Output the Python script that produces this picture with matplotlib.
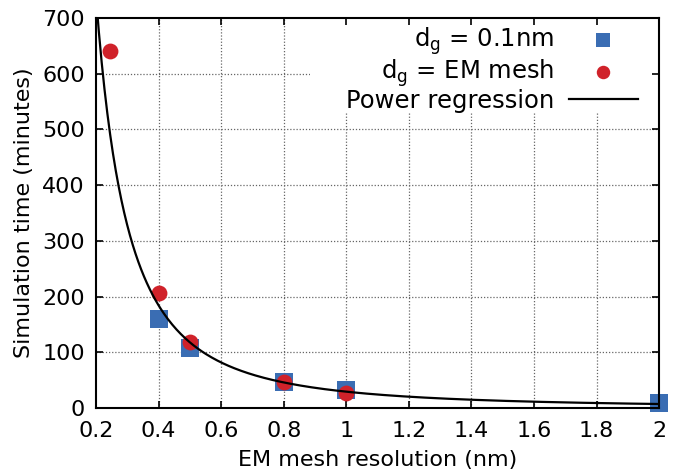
import numpy as np
import matplotlib
matplotlib.use("Agg")
import matplotlib.pyplot as plt
from matplotlib.patches import Rectangle

# data
x_blue = [0.4, 0.5, 0.8, 1.0, 2.0]
y_blue = [160, 107, 46, 33, 10]
x_red = [0.245, 0.4, 0.5, 0.8, 1.0]
y_red = [640, 207, 118, 46, 27]
# power regression y = a * x^b
reg_a = 29.5
reg_b = -2.0

xticks = [0.2, 0.4, 0.6, 0.8, 1.0, 1.2, 1.4, 1.6, 1.8, 2.0]
xticklabels = ["0.2", "0.4", "0.6", "0.8", "1", "1.2", "1.4", "1.6", "1.8", "2"]
yticks = [0, 100, 200, 300, 400, 500, 600, 700]

plt.rcParams['font.family'] = ['DejaVu Sans']
plt.rcParams['mathtext.fontset'] = 'dejavusans'
fs = 16

fig = plt.figure(figsize=(6.83, 4.74), dpi=100)
ax = fig.add_axes([0.1406, 0.139, 0.965 - 0.1406, 0.962 - 0.139])

blue = '#3a6db3'
red = '#d0222a'

# grid drawn manually beneath everything
gstyle = dict(linestyle=(0, (1, 1.5)), color='#666666', linewidth=0.9, zorder=0.5)
for yv in yticks[1:-1]:
    ax.axhline(yv, **gstyle)
for xv in xticks[1:-1]:
    ax.axvline(xv, **gstyle)

# white key box (covers grid like gnuplot key)
ax.add_patch(Rectangle((0.38, 0.759), 0.62, 0.241, transform=ax.transAxes,
                       facecolor='white', edgecolor='none', zorder=1))

xc = np.linspace(0.2, 2.0, 400)
yc = reg_a * xc ** reg_b

ax.scatter(x_blue, y_blue, marker='s', s=150, color=blue, zorder=3,
           label=r'd$_\mathregular{g}$ = 0.1nm', clip_on=False, linewidths=0)
ax.scatter(x_red, y_red, marker='o', s=130, color=red, zorder=4,
           label=r'd$_\mathregular{g}$ = EM mesh', clip_on=False, linewidths=0)
ax.plot(xc, yc, color='black', lw=1.6, zorder=5, label='Power regression')

ax.set_xlim(0.2, 2.0)
ax.set_ylim(0, 700)
ax.set_xticks(xticks)
ax.set_xticklabels(xticklabels)
ax.set_yticks(yticks)
ax.tick_params(direction='in', top=True, right=True, length=5, width=1.2,
               labelsize=fs)
ax.tick_params(axis='x', pad=9)
ax.tick_params(axis='y', pad=8)
for sp in ax.spines.values():
    sp.set_linewidth(1.5)
    sp.set_zorder(6)

ax.set_xlabel('EM mesh resolution (nm)', fontsize=fs, labelpad=7)
ax.set_ylabel('Simulation time (minutes)', fontsize=fs, labelpad=6)

leg = ax.legend(loc='upper right', bbox_to_anchor=(1 - 14 / 563, 1),
                fontsize=17.5, markerfirst=False, frameon=False,
                handlelength=2.85, handletextpad=0.6, labelspacing=0.0,
                borderpad=0.3, borderaxespad=0.0, markerscale=0.85)
leg.set_zorder(7)

fig.savefig('out.png', dpi=100)
